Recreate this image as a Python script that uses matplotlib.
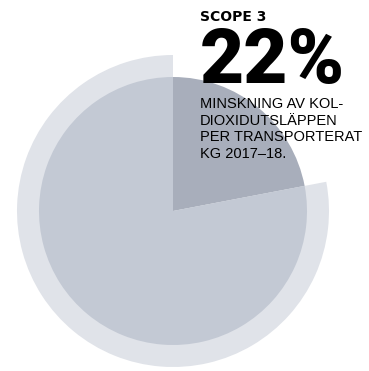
import matplotlib.pyplot as plt

# Scope 3 share
labels = ["Minskning", "Övrigt"]
shares = [22, 78]
big_number = "22%"
heading = "SCOPE 3"
description = ["MINSKNING AV KOL-", "DIOXIDUTSLÄPPEN", "PER TRANSPORTERAT", "KG 2017–18."]

fig = plt.figure(figsize=(3.69, 3.71), dpi=100)
ax = fig.add_axes([0, 0, 1, 1])

center = (173, 160)

# outer light ring, only behind the remaining share
ax.pie(
    shares,
    startangle=90,
    counterclock=False,
    radius=156,
    center=center,
    colors=["none", "#e0e3e9"],
    wedgeprops=dict(linewidth=0),
)

# inner pie
ax.pie(
    shares,
    startangle=90,
    counterclock=False,
    radius=134,
    center=center,
    colors=["#a8aebb", "#c3c9d4"],
    wedgeprops=dict(linewidth=0),
)

ax.set_xlim(0, 369)
ax.set_ylim(0, 371)
ax.set_aspect("equal")
ax.axis("off")

ax.text(200, 371 - 10, heading, fontsize=10, fontweight="bold",
        ha="left", va="top", color="black")
ax.text(200, 371 - 83, big_number, fontsize=55, fontweight="black",
        ha="left", va="baseline", color="black", family="Roboto")

for i, line in enumerate(description):
    ax.text(200, 371 - 108 - i * 16.7, line, fontsize=10.5,
            ha="left", va="baseline", color="black", family="Liberation Sans")

fig.savefig("out.png", dpi=100)
